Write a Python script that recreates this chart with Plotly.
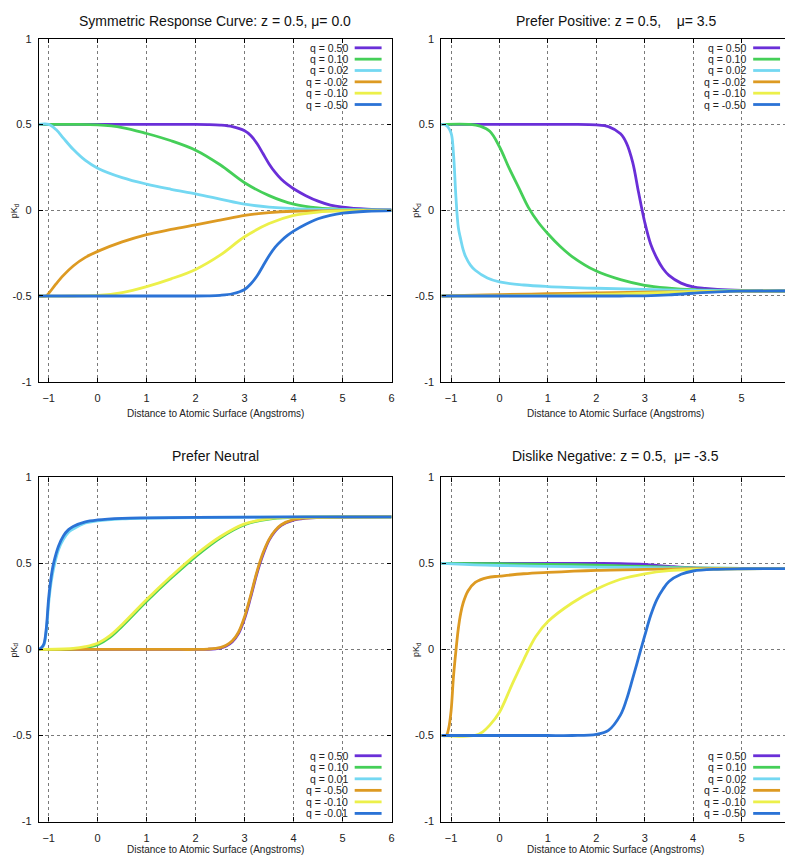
import plotly.graph_objects as go

W, H = 793, 855

# ---------------- data ----------------
titles = [
    "Symmetric Response Curve: z = 0.5,\u00a0μ= 0.0",
    "Prefer Positive: z = 0.5,\u00a0\u00a0\u00a0\u00a0μ= 3.5",
    "Prefer Neutral",
    "Dislike Negative: z = 0.5,\u00a0\u00a0μ= -3.5",
]
x_title = "Distance to Atomic Surface (Angstroms)"
y_title = "pK<sub>d</sub>"
x_ticks = [-1, 0, 1, 2, 3, 4, 5, 6]
y_ticks = [-1, -0.5, 0, 0.5, 1]
y_tick_text = ["-1", "-0.5", "0", "0.5", "1"]

labels_std = ["q = 0.50", "q = 0.10", "q = 0.02", "q = -0.02", "q = -0.10", "q = -0.50"]
labels_neutral = ["q = 0.50", "q = 0.10", "q = 0.01", "q = -0.50", "q = -0.10", "q = -0.01"]
colors = ["#6a2fd8", "#45cf58", "#74d8f2", "#dd9a22", "#ecf04a", "#2b73d6"]

# Panel 1: symmetric
p1_x = [
    [-1.2, -0.5, 0, 0.5, 1, 1.5, 2.0, 2.25, 2.5, 2.75, 3.0, 3.125, 3.25, 3.375, 3.5, 3.625, 3.75, 3.875, 4.0, 4.25, 4.5, 4.75, 5.0, 5.5, 6.0],
    [-1.2, -0.5, 0, 0.5, 1, 1.5, 2, 2.5, 3, 3.5, 4, 4.5, 5, 6],
    [-1.2, -1.0, -0.85, -0.7, -0.5, -0.25, 0, 0.5, 1, 1.5, 2, 2.5, 3, 3.5, 4, 5, 6],
    [-1.2, -1.05, -1.0, -0.85, -0.7, -0.5, -0.25, 0, 0.5, 1, 1.5, 2, 2.5, 3, 3.5, 4, 5, 6],
    [-1.2, -0.5, 0, 0.5, 1, 1.5, 2, 2.5, 3, 3.5, 4, 4.5, 5, 6],
    [-1.2, -0.5, 0, 0.5, 1, 1.5, 2.0, 2.25, 2.5, 2.75, 3.0, 3.125, 3.25, 3.375, 3.5, 3.625, 3.75, 3.875, 4.0, 4.25, 4.5, 4.75, 5.0, 5.5, 6.0],
]
p1_y = [
    [0.5, 0.5, 0.5, 0.5, 0.5, 0.5, 0.5, 0.499, 0.496, 0.487, 0.463, 0.435, 0.39, 0.33, 0.27, 0.22, 0.18, 0.15, 0.125, 0.085, 0.053, 0.03, 0.018, 0.006, 0.002],
    [0.5, 0.5, 0.497, 0.482, 0.447, 0.405, 0.35, 0.265, 0.16, 0.085, 0.035, 0.013, 0.005, 0.001],
    [0.5, 0.5, 0.47, 0.42, 0.355, 0.29, 0.245, 0.19, 0.152, 0.122, 0.095, 0.065, 0.035, 0.018, 0.009, 0.003, 0.001],
    [-0.5, -0.5, -0.485, -0.43, -0.38, -0.325, -0.275, -0.24, -0.185, -0.142, -0.112, -0.085, -0.058, -0.03, -0.014, -0.006, -0.002, -0.001],
    [-0.5, -0.5, -0.497, -0.48, -0.445, -0.4, -0.345, -0.262, -0.155, -0.078, -0.03, -0.011, -0.004, -0.001],
    [-0.5, -0.5, -0.5, -0.5, -0.5, -0.5, -0.5, -0.499, -0.496, -0.487, -0.462, -0.43, -0.385, -0.325, -0.265, -0.215, -0.178, -0.147, -0.122, -0.082, -0.05, -0.03, -0.017, -0.006, -0.002],
]

# Panel 2: prefer positive
p2_x = [
    [-1.2, -0.5, 0, 0.5, 1, 1.5, 2.0, 2.25, 2.5, 2.625, 2.75, 2.875, 3.0, 3.125, 3.25, 3.375, 3.5, 3.75, 4.0, 4.25, 4.5, 5, 5.5, 6],
    [-1.2, -0.6, -0.4, -0.2, 0, 0.2, 0.4, 0.6, 0.8, 1.0, 1.25, 1.5, 2.0, 2.5, 3.0, 3.5, 4.0, 5.0, 6.0],
    [-1.2, -1.1, -1.0, -0.95, -0.9, -0.85, -0.8, -0.75, -0.7, -0.6, -0.5, -0.25, 0, 0.5, 1, 2, 3, 4, 5, 6],
    [-1.2, -0.5, 0, 1, 2, 3, 4, 5, 6],
    [-1.2, 0, 1, 2, 3, 3.5, 4, 5, 6],
    [-1.2, 0, 1, 2, 2.5, 3, 3.5, 4, 4.5, 5, 6],
]
p2_y = [
    [0.5, 0.5, 0.5, 0.5, 0.5, 0.5, 0.497, 0.487, 0.445, 0.39, 0.28, 0.1, -0.07, -0.2, -0.28, -0.34, -0.38, -0.425, -0.447, -0.456, -0.462, -0.468, -0.47, -0.471],
    [0.5, 0.5, 0.49, 0.46, 0.37, 0.245, 0.13, 0.015, -0.07, -0.137, -0.21, -0.27, -0.355, -0.405, -0.438, -0.454, -0.463, -0.469, -0.471],
    [0.5, 0.495, 0.45, 0.33, 0.08, -0.1, -0.17, -0.23, -0.27, -0.32, -0.35, -0.395, -0.418, -0.436, -0.445, -0.455, -0.462, -0.467, -0.47, -0.471],
    [-0.5, -0.495, -0.492, -0.487, -0.482, -0.478, -0.474, -0.472, -0.471],
    [-0.5, -0.499, -0.496, -0.491, -0.484, -0.479, -0.475, -0.472, -0.471],
    [-0.5, -0.5, -0.5, -0.5, -0.5, -0.499, -0.494, -0.484, -0.476, -0.472, -0.471],
]

# Panel 3: prefer neutral
p3_x = [
    [-1.2, -0.5, 0, 0.5, 1, 1.5, 2.0, 2.25, 2.5, 2.625, 2.75, 2.875, 3.0, 3.125, 3.25, 3.375, 3.5, 3.625, 3.75, 4.0, 4.25, 4.5, 5.0, 6.0],
    [-1.2, -0.5, -0.25, 0, 0.25, 0.5, 1, 1.5, 2, 2.5, 3, 3.5, 4, 5, 6],
    [-1.2, -1.15, -1.1, -1.05, -1.0, -0.95, -0.9, -0.8, -0.7, -0.6, -0.5, -0.25, 0, 0.5, 1, 2, 4, 6],
    [-1.2, -0.5, 0, 0.5, 1, 1.5, 2.0, 2.25, 2.5, 2.625, 2.75, 2.875, 3.0, 3.125, 3.25, 3.375, 3.5, 3.625, 3.75, 4.0, 4.25, 4.5, 5.0, 6.0],
    [-1.2, -0.5, -0.25, 0, 0.25, 0.5, 1, 1.5, 2, 2.5, 3, 3.5, 4, 5, 6],
    [-1.2, -1.15, -1.1, -1.05, -1.0, -0.95, -0.9, -0.8, -0.7, -0.6, -0.5, -0.25, 0, 0.5, 1, 2, 4, 6],
]
p3_y = [
    [0, 0, 0, 0, 0, 0, 0, 0.001, 0.008, 0.02, 0.045, 0.092, 0.18, 0.305, 0.44, 0.55, 0.635, 0.688, 0.722, 0.752, 0.763, 0.767, 0.769, 0.77],
    [0, 0.002, 0.01, 0.028, 0.07, 0.135, 0.28, 0.415, 0.54, 0.648, 0.725, 0.758, 0.767, 0.77, 0.77],
    [0, 0.008, 0.025, 0.1, 0.27, 0.39, 0.47, 0.58, 0.64, 0.68, 0.70, 0.735, 0.748, 0.759, 0.763, 0.767, 0.769, 0.769],
    [0, 0, 0, 0, 0, 0, 0, 0.002, 0.01, 0.024, 0.05, 0.1, 0.19, 0.315, 0.45, 0.56, 0.64, 0.692, 0.725, 0.754, 0.764, 0.767, 0.769, 0.77],
    [0, 0.006, 0.016, 0.036, 0.08, 0.145, 0.29, 0.425, 0.55, 0.655, 0.73, 0.76, 0.768, 0.77, 0.77],
    [0, 0.01, 0.03, 0.12, 0.3, 0.42, 0.5, 0.6, 0.66, 0.695, 0.715, 0.742, 0.753, 0.762, 0.765, 0.768, 0.77, 0.77],
]

# Panel 4: dislike negative
p4_x = [
    [-1.2, 0, 1, 2, 2.5, 3.0, 3.5, 4.0, 4.5, 5, 6],
    [-1.2, 0, 1, 2, 3, 4, 5, 6],
    [-1.2, -0.5, 0, 1, 2, 3, 4, 5, 6],
    [-1.2, -1.1, -1.05, -1.0, -0.95, -0.9, -0.85, -0.8, -0.75, -0.65, -0.5, -0.25, 0, 0.5, 1, 2, 3, 4, 6],
    [-1.2, -0.5, -0.35, -0.2, 0, 0.25, 0.5, 0.75, 1, 1.5, 2, 2.5, 3, 3.5, 4, 5, 6],
    [-1.2, -0.5, 0, 0.5, 1, 1.5, 2.0, 2.25, 2.5, 2.625, 2.75, 2.875, 3.0, 3.125, 3.25, 3.375, 3.5, 3.75, 4.0, 4.5, 5, 6],
]
p4_y = [
    [0.5, 0.5, 0.5, 0.5, 0.499, 0.494, 0.483, 0.474, 0.471, 0.47, 0.47],
    [0.5, 0.498, 0.495, 0.49, 0.482, 0.474, 0.471, 0.47],
    [0.5, 0.492, 0.488, 0.483, 0.479, 0.476, 0.473, 0.471, 0.47],
    [-0.5, -0.5, -0.46, -0.36, -0.16, -0.01, 0.12, 0.21, 0.27, 0.34, 0.39, 0.418, 0.426, 0.44, 0.448, 0.46, 0.466, 0.469, 0.47],
    [-0.5, -0.5, -0.48, -0.44, -0.365, -0.21, -0.06, 0.075, 0.162, 0.27, 0.35, 0.408, 0.44, 0.458, 0.465, 0.469, 0.47],
    [-0.5, -0.5, -0.5, -0.5, -0.5, -0.5, -0.493, -0.47, -0.38, -0.29, -0.17, -0.045, 0.08, 0.2, 0.29, 0.35, 0.395, 0.437, 0.456, 0.466, 0.469, 0.47],
]

panels = [
    (p1_x, p1_y, labels_std),
    (p2_x, p2_y, labels_std),
    (p3_x, p3_y, labels_neutral),
    (p4_x, p4_y, labels_std),
]

# ---------------- layout geometry (pixels) ----------------
plot_boxes = [  # left, right, top, bottom
    (31, 385, 25, 373),
    (435, 785, 25, 373),
    (31, 385, 470, 819),
    (435, 785, 470, 819),
]
title_offsets = [18, 18, 22, 22]
xtitle_offsets = [32, 32, 28, 28]
legend_top = [True, True, False, False]
FONT = "Liberation Sans, Arial, Helvetica, sans-serif"


def px(x):
    return x / W


def py(y):
    return 1 - y / H


fig = go.Figure()
annotations = []
shapes = []

for i, ((xs, ys, labels), (L, R, T, B)) in enumerate(zip(panels, plot_boxes)):
    n = i + 1
    xa = "x" if n == 1 else f"x{n}"
    ya = "y" if n == 1 else f"y{n}"
    for j, (xv, yv) in enumerate(zip(xs, ys)):
        fig.add_trace(go.Scatter(
            x=xv, y=yv, mode="lines", name=labels[j],
            line=dict(color=colors[j], width=2.8, shape="spline", smoothing=1.0),
            xaxis=xa, yaxis=ya, showlegend=False, hoverinfo="skip",
        ))
    axis_common = dict(
        showgrid=True, gridcolor="#7a7a7a", griddash="dot", gridwidth=0.8,
        showline=True, linecolor="black", linewidth=1.3, mirror="allticks",
        ticks="inside", ticklen=4, tickcolor="black", zeroline=False,
        tickfont=dict(family=FONT, size=11, color="#222"),
        ticklabeloverflow="allow",
    )
    fig.update_layout(**{
        ("xaxis" if n == 1 else f"xaxis{n}"): dict(
            domain=[px(L), px(R)], range=[-1.2, 6], anchor=ya,
            tickmode="array", tickvals=x_ticks, ticklabelstandoff=6, **axis_common),
        ("yaxis" if n == 1 else f"yaxis{n}"): dict(
            domain=[py(B), py(T)], range=[-1, 1], anchor=xa,
            tickmode="array", tickvals=y_ticks, ticktext=y_tick_text,
            ticklabelstandoff=4, **axis_common),
    })
    cx = (L + R) / 2
    annotations.append(dict(
        text=titles[i], x=px(cx), y=py(T - title_offsets[i]), xref="paper", yref="paper",
        xanchor="center", yanchor="middle", showarrow=False,
        font=dict(family=FONT, size=14, color="#111")))
    annotations.append(dict(
        text=x_title, x=px(cx), y=py(B + xtitle_offsets[i]), xref="paper", yref="paper",
        xanchor="center", yanchor="middle", showarrow=False,
        font=dict(family=FONT, size=10, color="#222")))
    annotations.append(dict(
        text=y_title, x=px(L - 25), y=py((T + B) / 2), xref="paper", yref="paper",
        xanchor="center", yanchor="middle", showarrow=False, textangle=-90,
        font=dict(family=FONT, size=9, color="#222")))
    for j, lab in enumerate(labels):
        yy = (T + 9.3 + 11.5 * j) if legend_top[i] else (B - 66.7 + 11.7 * j)
        annotations.append(dict(
            text=lab, x=px(R - 42), y=py(yy), xref="paper", yref="paper",
            xanchor="right", yanchor="middle", showarrow=False,
            font=dict(family=FONT, size=10.5, color="#222")))
        shapes.append(dict(
            type="line", xref="paper", yref="paper",
            x0=px(R - 37), x1=px(R - 10), y0=py(yy), y1=py(yy),
            line=dict(color=colors[j], width=2.8)))

fig.update_layout(
    width=W, height=H, autosize=False,
    margin=dict(l=0, r=0, t=0, b=0),
    paper_bgcolor="white", plot_bgcolor="white",
    annotations=annotations, shapes=shapes,
    showlegend=False,
    font=dict(family=FONT),
)

fig.write_html("out.html")
